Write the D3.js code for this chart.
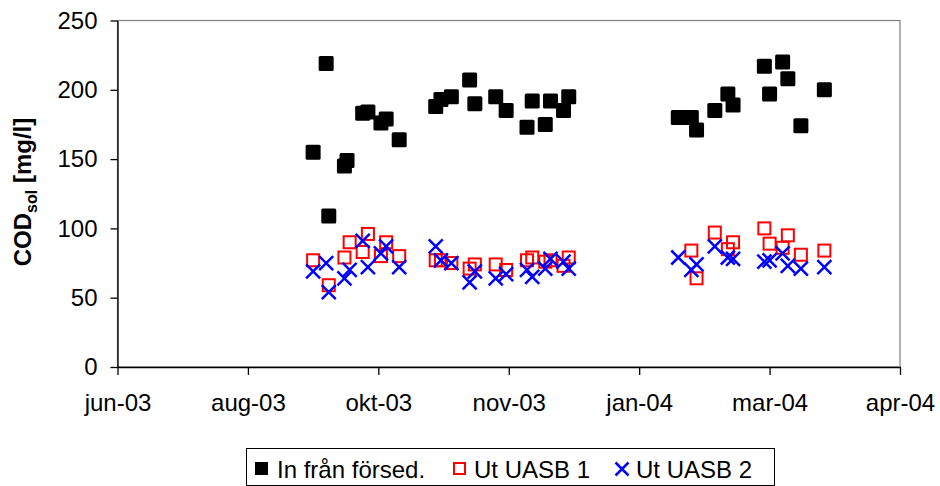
<!DOCTYPE html>
<html>
<head>
<meta charset="utf-8">
<script src="https://cdn.jsdelivr.net/npm/d3@7"></script>
<style>
  body { margin: 0; background: #fff; }
  svg text { font-family: "Liberation Sans", Arial, sans-serif; }
</style>
</head>
<body>
<svg id="chart" width="940" height="486"></svg>
<script>
// x axis: Excel date axis, min 2003-06-28, major unit 50 days
const tickDates = ['2003-06-28', '2003-08-17', '2003-10-06', '2003-11-25', '2004-01-14', '2004-03-04', '2004-04-23'];
const tickLabels = ['jun-03', 'aug-03', 'okt-03', 'nov-03', 'jan-04', 'mar-04', 'apr-04'];
const yTicks = [0, 50, 100, 150, 200, 250];

// In från försed.
const inDates = ['2003-09-11', '2003-09-16', '2003-09-17', '2003-09-23', '2003-09-24', '2003-09-30', '2003-10-02',
  '2003-10-07', '2003-10-09', '2003-10-14', '2003-10-28', '2003-10-30', '2003-11-03', '2003-11-10', '2003-11-12',
  '2003-11-20', '2003-11-24', '2003-12-02', '2003-12-04', '2003-12-09', '2003-12-11', '2003-12-16', '2003-12-18',
  '2004-01-29', '2004-02-03', '2004-02-05', '2004-02-12', '2004-02-17', '2004-02-19', '2004-03-02', '2004-03-04',
  '2004-03-09', '2004-03-11', '2004-03-16', '2004-03-25'];
const inValues = [155, 219, 109, 145, 149, 183, 184, 176, 179, 164, 188, 193, 195, 207, 190,
  195, 185, 173, 192, 175, 192, 185, 195,
  180, 180, 171, 185, 197, 189, 217, 197, 220, 208, 174, 200];

// Ut UASB 1
const uasb1Dates = ['2003-09-11', '2003-09-17', '2003-09-23', '2003-09-25', '2003-09-30', '2003-10-02',
  '2003-10-07', '2003-10-09', '2003-10-14', '2003-10-28', '2003-10-30', '2003-11-03', '2003-11-10', '2003-11-12',
  '2003-11-20', '2003-11-24', '2003-12-02', '2003-12-04', '2003-12-09', '2003-12-11', '2003-12-16', '2003-12-18',
  '2004-02-03', '2004-02-05', '2004-02-12', '2004-02-17', '2004-02-19', '2004-03-02', '2004-03-04',
  '2004-03-09', '2004-03-11', '2004-03-16', '2004-03-25'];
const uasb1Values = [77, 59, 79, 90, 83, 96, 80, 90, 80, 77, 77, 75, 71, 74,
  74, 70, 77, 79, 76, 77, 73, 79,
  84, 64, 97, 85, 90, 100, 89, 86, 95, 81, 84];

// Ut UASB 2
const uasb2Dates = ['2003-09-11', '2003-09-16', '2003-09-17', '2003-09-23', '2003-09-25', '2003-09-30', '2003-10-02',
  '2003-10-07', '2003-10-09', '2003-10-14', '2003-10-28', '2003-10-30', '2003-11-03', '2003-11-10', '2003-11-12',
  '2003-11-20', '2003-11-24', '2003-12-02', '2003-12-04', '2003-12-09', '2003-12-11', '2003-12-16', '2003-12-18',
  '2004-01-29', '2004-02-03', '2004-02-05', '2004-02-12', '2004-02-17', '2004-02-19', '2004-03-02', '2004-03-04',
  '2004-03-09', '2004-03-11', '2004-03-16', '2004-03-25'];
const uasb2Values = [69, 75, 54, 64, 70, 91, 72, 82, 87, 72, 87, 77, 75, 61, 69,
  64, 67, 70, 65, 71, 78, 76, 71,
  79, 70, 74, 87, 79, 78, 76, 77, 82, 73, 71, 72];

const parse = d3.utcParse('%Y-%m-%d');

function makeChart() {
  let svg = d3.select('#chart');

  // plot area edges in pixels
  let left = 117.5, right = 900, top = 20.5, bottom = 367;

  let xScale = d3.scaleUtc()
    .domain([parse(tickDates[0]), parse(tickDates[tickDates.length - 1])])
    .range([left, right]);

  let yScale = d3.scaleLinear()
    .domain([0, 250])
    .range([bottom, top]);

  // plot area border (grey on top / right)
  svg.append('rect')
    .attr('x', left).attr('y', top)
    .attr('width', right - left).attr('height', bottom - top)
    .attr('fill', 'none')
    .attr('stroke', '#808080')
    .attr('stroke-width', 1.2);

  // AXES
  let xAxis = d3.axisBottom(xScale)
    .tickValues(tickDates.map(parse))
    .tickFormat((d, i) => tickLabels[i])
    .tickSize(8)
    .tickSizeOuter(0)
    .tickPadding(19);

  let gx = svg.append('g')
    .attr('transform', `translate(0, ${bottom})`)
    .call(xAxis);

  let yAxis = d3.axisLeft(yScale)
    .tickValues(yTicks)
    .tickSize(7)
    .tickSizeOuter(0)
    .tickPadding(13);

  let gy = svg.append('g')
    .attr('transform', `translate(${left}, 0)`)
    .call(yAxis);

  [gx, gy].forEach((g) => {
    g.selectAll('path, line').attr('stroke', '#000').attr('stroke-width', 1.3);
    g.selectAll('text')
      .attr('fill', '#000')
      .style('font-size', '24px')
      .style('font-family', '"Liberation Sans", Arial, sans-serif');
  });

  // y axis title
  let title = svg.append('text')
    .attr('transform', 'translate(31, 192) rotate(-90)')
    .attr('text-anchor', 'middle')
    .style('font-weight', 'bold')
    .style('font-size', '24px');
  title.append('tspan').text('COD');
  title.append('tspan').attr('dy', 6).style('font-size', '16px').text('sol');
  title.append('tspan').attr('dy', -6).text(' [mg/l]');

  // SERIES
  let inData = inDates.map((d, i) => ({ date: parse(d), value: inValues[i] }));
  let u1Data = uasb1Dates.map((d, i) => ({ date: parse(d), value: uasb1Values[i] }));
  let u2Data = uasb2Dates.map((d, i) => ({ date: parse(d), value: uasb2Values[i] }));

  svg.append('g').selectAll('rect')
    .data(inData)
    .enter()
    .append('rect')
    .attr('x', (d) => xScale(d.date) - 7.5)
    .attr('y', (d) => yScale(d.value) - 7.5)
    .attr('width', 15)
    .attr('height', 15)
    .attr('rx', 1.5)
    .attr('fill', '#000');

  svg.append('g').selectAll('rect')
    .data(u1Data)
    .enter()
    .append('rect')
    .attr('x', (d) => xScale(d.date) - 6)
    .attr('y', (d) => yScale(d.value) - 6)
    .attr('width', 12)
    .attr('height', 12)
    .attr('fill', 'none')
    .attr('stroke', '#ff0000')
    .attr('stroke-width', 2);

  let cross = (x, y, r) => `M${x - r},${y - r}L${x + r},${y + r}M${x - r},${y + r}L${x + r},${y - r}`;

  svg.append('g').selectAll('path')
    .data(u2Data)
    .enter()
    .append('path')
    .attr('d', (d) => cross(xScale(d.date), yScale(d.value), 7))
    .attr('fill', 'none')
    .attr('stroke', '#0000ff')
    .attr('stroke-width', 2.5);

  // LEGEND
  let legend = svg.append('g');
  legend.append('rect')
    .attr('x', 246.5).attr('y', 448.5)
    .attr('width', 528).attr('height', 37)
    .attr('fill', '#fff')
    .attr('stroke', '#000')
    .attr('stroke-width', 1);

  legend.append('rect')
    .attr('x', 255).attr('y', 462).attr('width', 13).attr('height', 13)
    .attr('fill', '#000');
  legend.append('text').attr('x', 277).attr('y', 478).style('font-size', '24px').text('In från försed.');

  legend.append('rect')
    .attr('x', 454).attr('y', 463).attr('width', 11).attr('height', 11)
    .attr('fill', 'none').attr('stroke', '#ff0000').attr('stroke-width', 2);
  legend.append('text').attr('x', 474).attr('y', 478).style('font-size', '24px').text('Ut UASB 1');

  legend.append('path')
    .attr('d', cross(622, 469, 6.5))
    .attr('fill', 'none').attr('stroke', '#0000ff').attr('stroke-width', 2.5);
  legend.append('text').attr('x', 636).attr('y', 478).style('font-size', '24px').text('Ut UASB 2');
}

window.onload = function () {
  makeChart();
};
</script>
</body>
</html>
